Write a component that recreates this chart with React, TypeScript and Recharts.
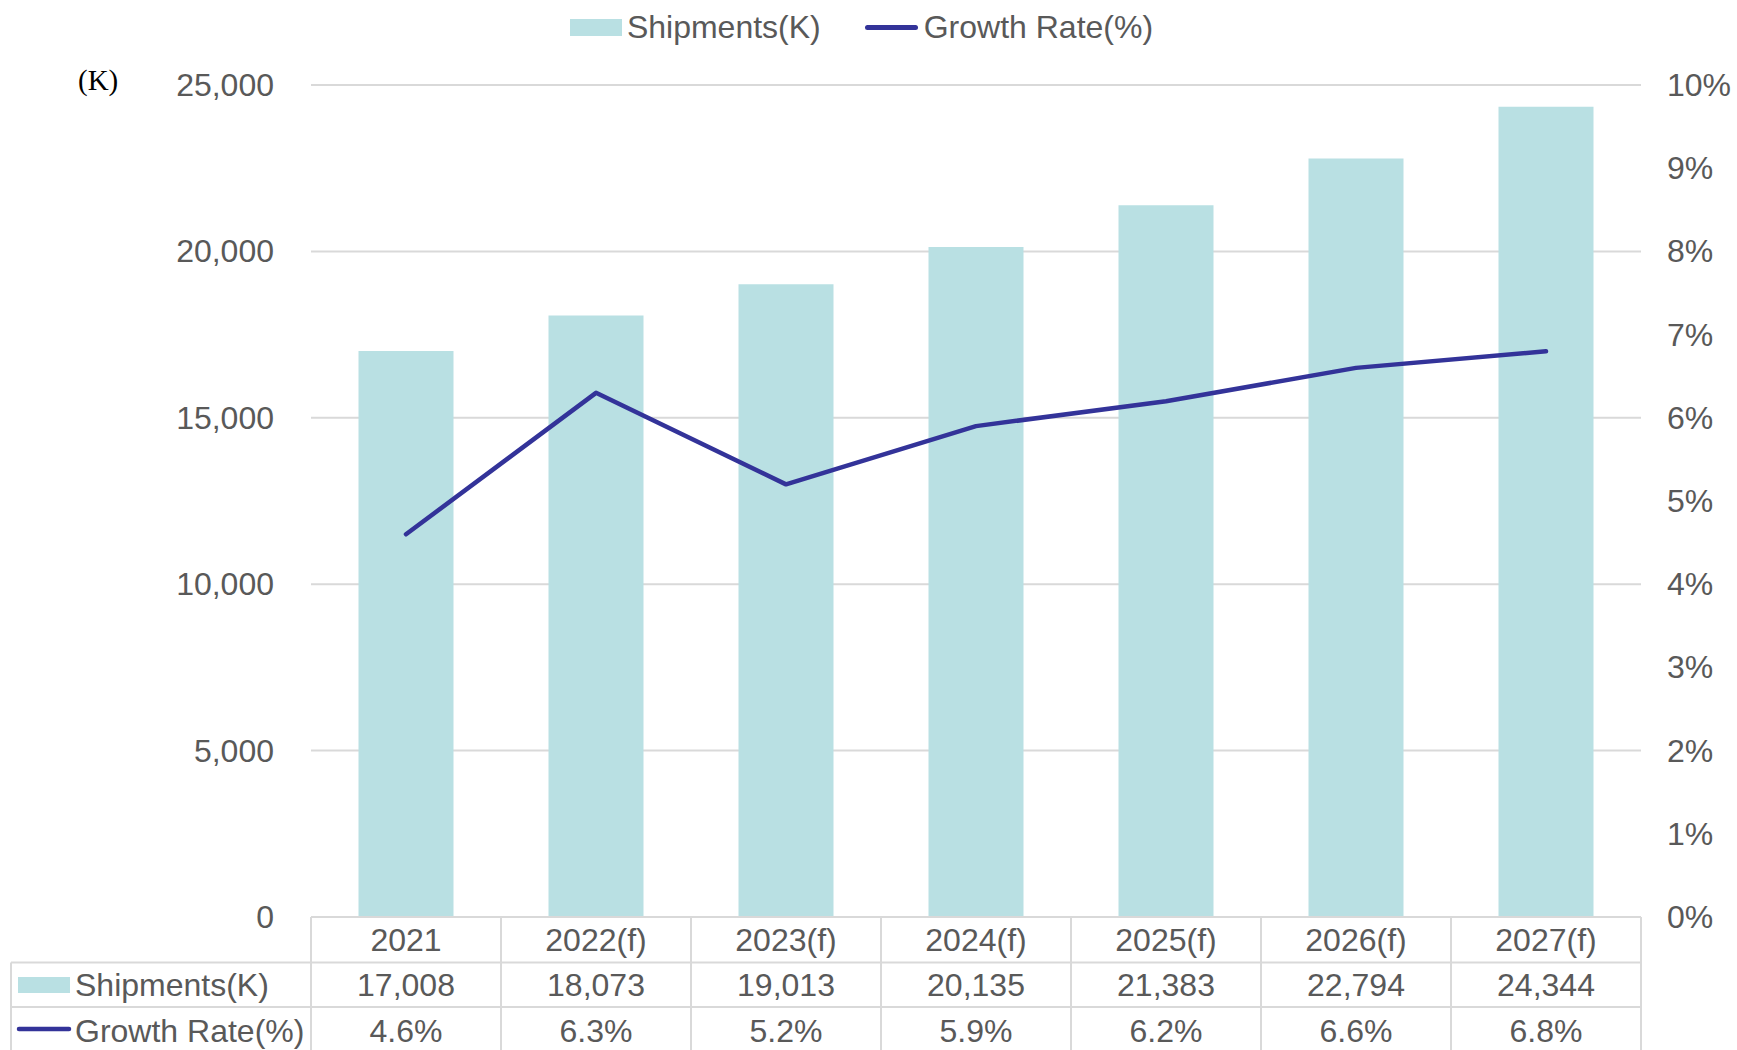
import { ComposedChart, Bar, Line, XAxis, YAxis, CartesianGrid, Legend } from 'recharts';

const categories = ['2021', '2022(f)', '2023(f)', '2024(f)', '2025(f)', '2026(f)', '2027(f)'];
const shipments = [17008, 18073, 19013, 20135, 21383, 22794, 24344];
const growthRate = [4.6, 6.3, 5.2, 5.9, 6.2, 6.6, 6.8];
const leftTicks = [0, 5000, 10000, 15000, 20000, 25000];
const rightTicks = [0, 1, 2, 3, 4, 5, 6, 7, 8, 9, 10];

const data = categories.map((year, i) => ({
    year,
    shipments: shipments[i],
    growth: growthRate[i]
}));

const W = 1737;
const H = 1050;
const PLOT_LEFT = 311;
const PLOT_RIGHT = 1641;
const PLOT_TOP = 85;
const PLOT_BOTTOM = 917;
const ROW1 = 962.5;
const ROW2 = 1007;
const HALF_BAND = (PLOT_RIGHT - PLOT_LEFT) / categories.length / 2;

const BAR_COLOR = '#b9e0e3';
const LINE_COLOR = '#333399';
const GRID = '#d9d9d9';
const TEXT = '#595959';
const FONT = '"Liberation Sans", Arial, sans-serif';
const FS = 32;

const fmt = (v: number) => v.toLocaleString('en-US');

const LeftTick = ({ y, payload }: any) => (
    <text x={274} y={y} textAnchor="end" dominantBaseline="central" fill={TEXT} fontSize={FS} fontFamily={FONT}>
        {fmt(payload.value)}
    </text>
);

const RightTick = ({ y, payload }: any) => (
    <text x={1667} y={y} textAnchor="start" dominantBaseline="central" fill={TEXT} fontSize={FS} fontFamily={FONT}>
        {payload.value}%
    </text>
);

// each category tick draws its own column of the data table
const TableTick = ({ x, payload }: any) => {
    const i = payload.index;
    const l = x - HALF_BAND;
    const r = x + HALF_BAND;
    const txt = { textAnchor: 'middle' as const, dominantBaseline: 'central' as const, fill: TEXT, fontSize: FS, fontFamily: FONT };
    return (
        <g>
            <line x1={l} x2={r} y1={PLOT_BOTTOM} y2={PLOT_BOTTOM} stroke={GRID} strokeWidth={2} />
            <line x1={l} x2={r} y1={ROW1} y2={ROW1} stroke={GRID} strokeWidth={2} />
            <line x1={l} x2={r} y1={ROW2} y2={ROW2} stroke={GRID} strokeWidth={2} />
            <line x1={l} x2={l} y1={PLOT_BOTTOM} y2={H} stroke={GRID} strokeWidth={2} />
            <line x1={r} x2={r} y1={PLOT_BOTTOM} y2={H} stroke={GRID} strokeWidth={2} />
            <text x={x} y={(PLOT_BOTTOM + ROW1) / 2} {...txt}>{payload.value}</text>
            <text x={x} y={(ROW1 + ROW2) / 2} {...txt}>{fmt(shipments[i])}</text>
            <text x={x} y={(ROW2 + H) / 2 + 2} {...txt}>{growthRate[i].toFixed(1)}%</text>
        </g>
    );
};

const LegendContent = () => (
    <div style={{ display: 'flex', justifyContent: 'center', alignItems: 'center', fontFamily: FONT, fontSize: FS, color: TEXT, paddingRight: 14 }}>
        <span style={{ display: 'inline-block', width: 52, height: 17, background: BAR_COLOR, marginRight: 5 }} />
        <span>Shipments(K)</span>
        <span style={{ display: 'inline-block', width: 53, height: 5, borderRadius: 3, background: LINE_COLOR, marginLeft: 44, marginRight: 6 }} />
        <span>Growth Rate(%)</span>
    </div>
);

export default function App() {
    return (
        <div style={{ position: 'absolute', left: 0, top: 0, width: W, height: H, background: '#fff' }}>
            <ComposedChart
                width={W}
                height={H}
                data={data}
                margin={{ top: PLOT_TOP, right: 0, left: 0, bottom: 0 }}
                barCategoryGap="25%"
            >
                <CartesianGrid yAxisId="left" vertical={false} stroke={GRID} strokeWidth={2} />
                <XAxis
                    dataKey="year"
                    height={H - PLOT_BOTTOM}
                    axisLine={false}
                    tickLine={false}
                    interval={0}
                    tick={<TableTick />}
                />
                <YAxis
                    yAxisId="left"
                    width={PLOT_LEFT}
                    domain={[0, 25000]}
                    ticks={leftTicks}
                    axisLine={false}
                    tickLine={false}
                    tick={<LeftTick />}
                />
                <YAxis
                    yAxisId="right"
                    orientation="right"
                    width={W - PLOT_RIGHT}
                    domain={[0, 10]}
                    ticks={rightTicks}
                    axisLine={false}
                    tickLine={false}
                    tick={<RightTick />}
                />
                <Legend verticalAlign="middle" layout="horizontal" content={<LegendContent />} wrapperStyle={{ top: 9, left: 0, width: W }} />
                <Bar yAxisId="left" dataKey="shipments" name="Shipments(K)" fill={BAR_COLOR} isAnimationActive={false} />
                <Line
                    yAxisId="right"
                    dataKey="growth"
                    name="Growth Rate(%)"
                    stroke={LINE_COLOR}
                    strokeWidth={4.5}
                    strokeLinecap="round"
                    strokeLinejoin="round"
                    dot={false}
                    activeDot={false}
                    isAnimationActive={false}
                />
            </ComposedChart>
            <svg width={W} height={H} style={{ position: 'absolute', left: 0, top: 0, pointerEvents: 'none' }}>
                <text x={78} y={80} dominantBaseline="central" fontSize={29} fontFamily='"Liberation Serif", "Times New Roman", serif' fill="#000">
                    (K)
                </text>
                <line x1={11} x2={PLOT_LEFT} y1={ROW1} y2={ROW1} stroke={GRID} strokeWidth={2} />
                <line x1={11} x2={PLOT_LEFT} y1={ROW2} y2={ROW2} stroke={GRID} strokeWidth={2} />
                <line x1={11} x2={11} y1={ROW1} y2={H} stroke={GRID} strokeWidth={2} />
                <rect x={18} y={977} width={52} height={16} fill={BAR_COLOR} />
                <text x={75} y={(ROW1 + ROW2) / 2} dominantBaseline="central" fontSize={FS} fontFamily={FONT} fill={TEXT}>
                    Shipments(K)
                </text>
                <line x1={19} x2={69} y1={1029} y2={1029} stroke={LINE_COLOR} strokeWidth={4.5} strokeLinecap="round" />
                <text x={75} y={(ROW2 + H) / 2 + 2} dominantBaseline="central" fontSize={FS} fontFamily={FONT} fill={TEXT}>
                    Growth Rate(%)
                </text>
            </svg>
        </div>
    );
}
